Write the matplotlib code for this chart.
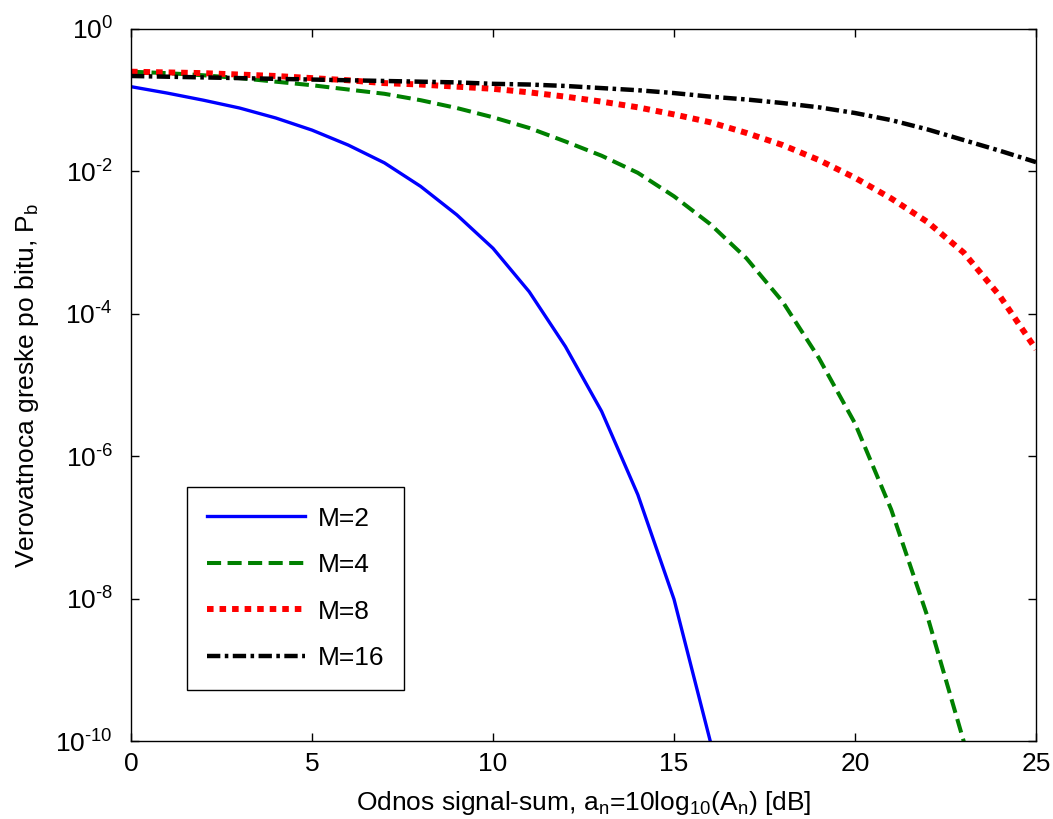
import numpy as np
import matplotlib.pyplot as plt

plt.rcParams['font.family'] = ['Liberation Sans', 'DejaVu Sans']
plt.rcParams['mathtext.fontset'] = 'custom'
plt.rcParams['mathtext.rm'] = 'Liberation Sans'
plt.rcParams['mathtext.it'] = 'Liberation Sans:italic'

# SNR in dB
snr = np.arange(0, 26)

# log10 of bit error probability
logpb_m2 = [-0.81, -0.90, -1.00, -1.11, -1.25, -1.42, -1.63, -1.88, -2.21, -2.61,
            -3.08, -3.69, -4.46, -5.37, -6.54, -8.01, -10.0, -12.3]
logpb_m4 = [-0.60, -0.62, -0.65, -0.69, -0.74, -0.79, -0.85, -0.91, -1.00, -1.11,
            -1.24, -1.39, -1.58, -1.78, -2.02, -2.35, -2.74, -3.22, -3.83, -4.62,
            -5.54, -6.75, -8.25, -10.0, -12.0]
logpb_m8 = [-0.60, -0.61, -0.62, -0.64, -0.66, -0.69, -0.72, -0.76, -0.78, -0.81,
            -0.84, -0.89, -0.95, -1.02, -1.10, -1.20, -1.31, -1.46, -1.63, -1.84,
            -2.09, -2.38, -2.71, -3.14, -3.75, -4.50]
logpb_m16 = [-0.66, -0.67, -0.68, -0.69, -0.70, -0.71, -0.72, -0.73, -0.74, -0.75,
             -0.77, -0.78, -0.80, -0.83, -0.86, -0.90, -0.95, -0.99, -1.04, -1.10,
             -1.18, -1.28, -1.41, -1.56, -1.71, -1.87]

labels = ['M=2', 'M=4', 'M=8', 'M=16']
yticks = [1e-10, 1e-8, 1e-6, 1e-4, 1e-2, 1e0]
ytick_labels = [r'$\mathregular{10^{\text{%d}}}$' % e for e in [-10, -8, -6, -4, -2, 0]]

fs = 19

fig = plt.figure(figsize=(10.53, 8.19), dpi=100)
ax = fig.add_axes([0.1244, 0.0952, 0.8595, 0.8694])

ax.semilogy(snr[:len(logpb_m2)], 10.0 ** np.array(logpb_m2), color='#0000ff', lw=2.4,
            label=labels[0])
ax.semilogy(snr[:len(logpb_m4)], 10.0 ** np.array(logpb_m4), color='#008000', lw=2.9,
            ls=(0, (3.5, 1.6)), label=labels[1])
ax.semilogy(snr, 10.0 ** np.array(logpb_m8), color='#ff0000', lw=4.3,
            ls=(0, (1.1, 1.0)), label=labels[2])
ax.semilogy(snr, 10.0 ** np.array(logpb_m16), color='black', lw=3.2,
            ls=(0, (3.0, 1.0, 0.8, 1.0)), label=labels[3])

ax.set_xlim(0, 25)
ax.set_ylim(1e-10, 1e0)
ax.set_xticks([0, 5, 10, 15, 20, 25])
ax.set_yticks(yticks)
ax.set_yticklabels(ytick_labels)
ax.minorticks_off()
ax.tick_params(direction='in', top=True, right=True, labelsize=fs, length=6, width=1)
ax.tick_params(axis='x', pad=8)
ax.tick_params(axis='y', pad=13)

ax.set_xlabel(r'Odnos signal-sum, a$\mathregular{_n}$=10log$\mathregular{_{10}}$(A$\mathregular{_n}$) [dB]',
              fontsize=fs, labelpad=9)
ax.set_ylabel(r'Verovatnoca greske po bitu, P$\mathregular{_b}$', fontsize=fs, labelpad=10)

leg = ax.legend(loc='lower left', bbox_to_anchor=(0.062, 0.072), borderaxespad=0,
                fontsize=fs, fancybox=False, edgecolor='black', framealpha=1,
                handlelength=3.7, labelspacing=0.85, borderpad=0.75, handletextpad=0.5)
leg.get_frame().set_linewidth(1.0)

for s in ax.spines.values():
    s.set_linewidth(1.0)

fig.savefig('out.png', dpi=100)
